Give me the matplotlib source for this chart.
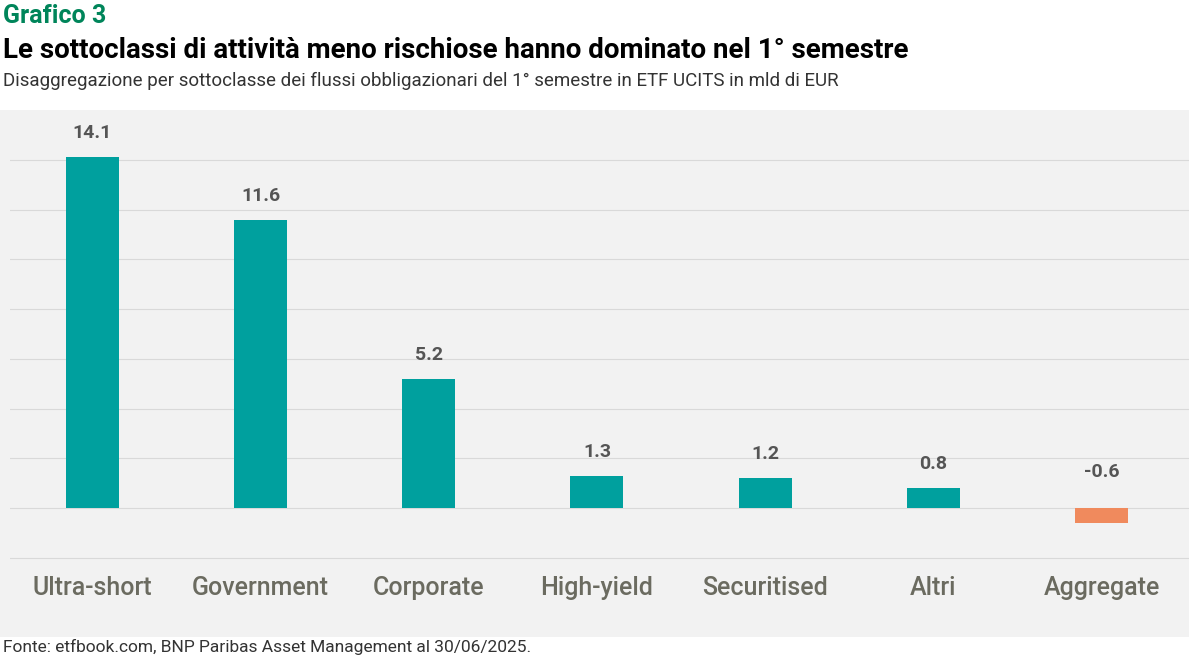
import matplotlib
matplotlib.use("Agg")
import matplotlib.pyplot as plt
from matplotlib.patches import Rectangle

categories = ["Ultra-short", "Government", "Corporate", "High-yield", "Securitised", "Altri", "Aggregate"]
values = [14.1, 11.6, 5.2, 1.3, 1.2, 0.8, -0.6]
labels = ["14.1", "11.6", "5.2", "1.3", "1.2", "0.8", "-0.6"]

W, H = 1189, 661
fig = plt.figure(figsize=(W/100, H/100), dpi=100)
fig.patch.set_facecolor("white")
bg = "#f2f2f2"
fig.patches.append(Rectangle((0, (H-637)/H), 1, (637-110)/H, transform=fig.transFigure,
                             facecolor=bg, edgecolor="none", zorder=-10))

ax = fig.add_axes([10/W, (H-560)/H, (W-10)/W, (560-110)/H])
ax.set_zorder(1)
ax.set_facecolor(bg)
cols = ["#00a09e" if v >= 0 else "#f08a5d" for v in values]
x = range(len(values))
ax.bar(x, values, width=0.315, color=cols, zorder=3)
ax.set_xlim(-0.49, 6.52)
ax.set_ylim(-2.08, 16)
ax.set_yticks(range(-2, 16, 2))
ax.grid(axis="y", color="#d9d9d9", linewidth=0.8, zorder=0)
ax.tick_params(left=False, labelleft=False, bottom=False)
for s in ax.spines.values():
    s.set_visible(False)
ax.set_xticks(list(x))
ax.set_xticklabels(categories, fontsize=18, color="#6b6b60", fontfamily="Roboto", fontweight="medium")
ax.tick_params(axis="x", pad=8)
for i, (v, l) in enumerate(zip(values, labels)):
    y = v + 0.6 if v >= 0 else 1.1
    ax.text(i, y, l, ha="center", va="bottom", fontsize=14, color="#555555",
            fontweight="bold", fontfamily="Roboto")

fig.text(3/W, 1-16/H, "Grafico 3", fontsize=18, fontweight="bold", color="#00855a",
         va="center", fontfamily="Roboto")
fig.text(3/W, 1-50/H, "Le sottoclassi di attività meno rischiose hanno dominato nel 1° semestre",
         fontsize=20, fontweight="bold", color="black", va="center", fontfamily="Roboto")
fig.text(3/W, 1-81/H, "Disaggregazione per sottoclasse dei flussi obbligazionari del 1° semestre in ETF UCITS in mld di EUR",
         fontsize=13.5, color="#333333", va="center", fontfamily="Roboto")
fig.text(3/W, 1-647/H, "Fonte: etfbook.com, BNP Paribas Asset Management al 30/06/2025.",
         fontsize=12.5, color="#333333", va="center", fontfamily="Roboto")

fig.savefig("out.png", dpi=100)
